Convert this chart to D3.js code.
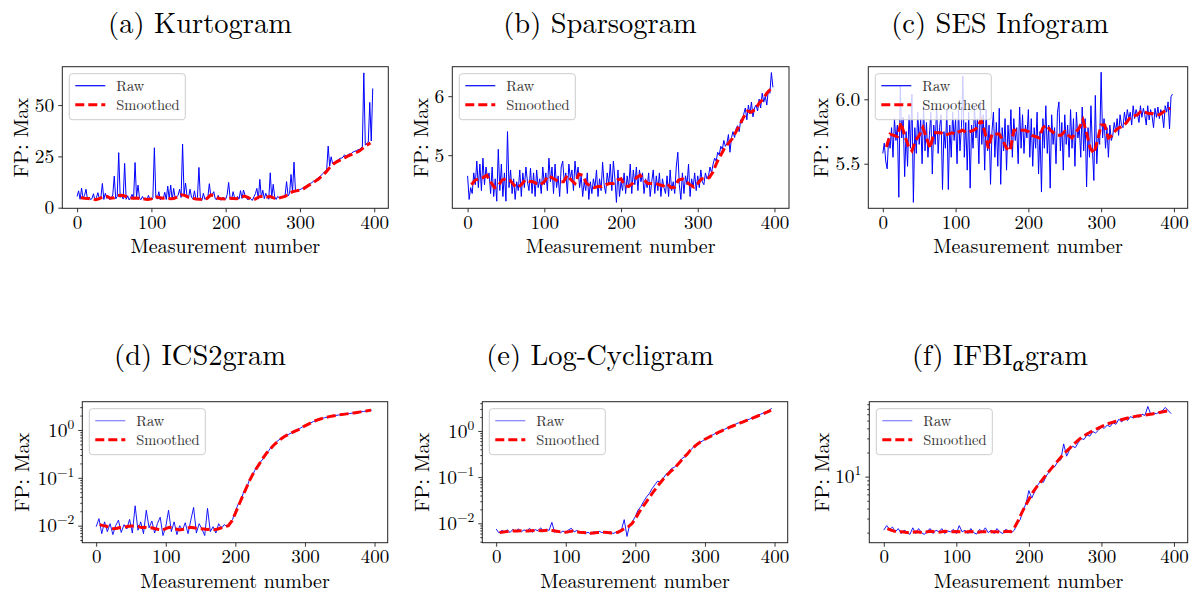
<!DOCTYPE html>
<html>
<head>
<meta charset="utf-8">
<script src="https://cdn.jsdelivr.net/npm/d3@7"></script>
<style>
body { margin: 0; background: #fff; }
</style>
</head>
<body>
<svg id="chart" width="1199" height="595"></svg>
<script>
// measurement axis
var xTicks = [0, 100, 200, 300, 400];
var smoothStart = 5, smoothStep = 5;

// (a) Kurtogram, raw every 2 measurements
var kurtRaw = [
  5.5, 8.2, 4.1, 9.5, 4.6, 6.0, 9.0, 3.8, 5.2, 4.0,
  4.4, 6.8, 3.6, 5.0, 7.3, 4.2, 5.1, 11.8, 4.0, 7.0,
  4.5, 5.8, 3.9, 4.8, 6.2, 15.4, 4.3, 5.5, 26.8, 5.0,
  6.3, 4.2, 21.6, 4.1, 5.8, 3.8, 4.9, 6.5, 4.2, 22.0,
  5.1, 11.0, 4.6, 3.9, 5.5, 4.0, 4.7, 3.7, 6.0, 4.2,
  3.9, 4.8, 29.2, 5.0, 4.3, 7.8, 3.8, 5.2, 4.5, 7.5,
  4.0, 10.5, 4.2, 11.0, 3.9, 9.4, 4.6, 5.3, 6.0, 9.0,
  5.0, 31.0, 6.5, 12.0, 5.5, 4.8, 9.0, 5.1, 4.3, 8.2,
  3.9, 5.0, 19.6, 4.0, 3.6, 7.0, 4.1, 4.5, 5.0, 11.7,
  5.8, 6.5, 7.8, 4.3, 3.9, 6.0, 4.0, 3.7, 5.2, 4.4,
  4.1, 6.3, 12.3, 4.6, 4.0, 7.8, 4.8, 3.9, 5.5, 4.2,
  8.3, 4.5, 8.6, 6.0, 4.8, 3.8, 5.0, 4.1, 3.6, 5.3,
  6.8, 9.4, 4.2, 13.8, 5.0, 8.5, 4.4, 7.0, 5.2, 4.1,
  17.0, 4.6, 11.4, 5.3, 4.0, 5.5, 4.8, 5.2, 5.0, 5.6,
  6.0, 12.7, 5.8, 6.8, 16.2, 7.5, 22.2, 8.0, 8.3, 8.6,
  8.8, 9.2, 9.6, 10.0, 10.4, 10.9, 11.3, 11.8, 12.2, 12.8,
  13.2, 13.8, 14.4, 15.0, 15.6, 16.3, 17.0, 17.8, 18.5, 30.0,
  20.2, 24.8, 21.5, 22.0, 22.6, 23.0, 23.5, 24.0, 24.2, 24.6,
  25.8, 25.0, 25.5, 26.3, 26.0, 26.8, 27.2, 27.5, 27.8, 28.2,
  28.4, 29.0, 29.6, 65.7, 30.5, 31.2, 32.0, 51.3, 32.5, 58.1
];
var kurtSmooth = [
  4.8, 4.6, 4.5, 4.2, 3.9, 4.4, 5.3, 5.5, 4.6, 4.8,
  5.9, 6.0, 5.6, 4.8, 4.6, 4.7, 4.4, 4.2, 4.0, 4.3,
  5.4, 5.0, 4.6, 4.8, 4.4, 4.5, 5.2, 6.3, 6.0, 5.0,
  4.6, 4.2, 4.1, 4.0, 4.5, 6.2, 5.8, 4.6, 4.3, 4.2,
  4.6, 4.5, 4.4, 5.0, 5.6, 5.0, 4.0, 4.2, 5.3, 5.6,
  5.2, 5.4, 4.7, 4.5, 5.0, 5.5, 6.6, 7.8, 8.2, 8.6,
  9.3, 10.5, 11.6, 12.7, 14.0, 15.5, 17.3, 19.5, 21.3, 22.5,
  23.3, 24.3, 25.2, 26.0, 26.8, 27.6, 29.0, 30.5, 31.5
];
var kurtTicks = [0, 25, 50];

// (b) Sparsogram
var sparsRaw = [
  4.65, 4.25, 4.45, 4.35, 4.70, 4.50, 4.90, 4.45, 4.85, 4.40,
  4.95, 4.50, 4.80, 4.60, 4.70, 4.35, 4.80, 4.30, 4.60, 4.22,
  5.10, 4.40, 4.85, 4.30, 4.70, 4.22, 5.40, 4.45, 4.75, 4.35,
  4.60, 4.25, 4.55, 4.40, 4.75, 4.30, 4.70, 4.45, 4.80, 4.55,
  4.40, 4.78, 4.35, 4.70, 4.30, 4.75, 4.45, 4.60, 4.35, 4.80,
  4.50, 4.70, 4.40, 4.95, 4.55, 4.80, 4.35, 4.85, 4.45, 4.65,
  4.30, 4.80, 4.90, 4.55, 4.70, 4.35, 4.85, 4.60, 4.75, 4.40,
  4.90, 4.60, 4.80, 4.45, 4.65, 4.30, 4.55, 4.40, 4.70, 4.25,
  4.55, 4.35, 4.60, 4.45, 4.75, 4.30, 4.60, 4.40, 4.88, 4.50,
  4.35, 4.70, 4.50, 4.85, 4.40, 4.90, 4.60, 4.20, 4.75, 4.30,
  4.55, 4.40, 4.70, 4.35, 4.65, 4.45, 4.85, 4.35, 4.75, 4.50,
  4.80, 4.40, 4.75, 4.55, 4.70, 4.35, 4.60, 4.45, 4.70, 4.30,
  4.55, 4.75, 4.35, 4.65, 4.40, 4.70, 4.30, 4.60, 4.45, 4.35,
  4.65, 4.30, 4.75, 4.40, 4.55, 4.35, 4.80, 5.05, 4.50, 4.25,
  4.70, 4.35, 4.65, 4.50, 4.85, 4.30, 4.60, 4.45, 4.70, 4.40,
  4.65, 4.45, 4.75, 4.55, 4.50, 4.70, 4.60, 4.65, 4.80, 4.70,
  4.85, 4.95, 4.90, 5.05, 5.00, 5.15, 5.10, 5.25, 5.15, 5.20,
  5.35, 5.05, 5.30, 5.40, 5.30, 5.45, 5.50, 5.40, 5.60, 5.55,
  5.70, 5.80, 5.60, 5.85, 5.70, 5.90, 5.65, 5.80, 5.85, 5.75,
  5.95, 5.80, 6.05, 5.90, 6.00, 5.85, 6.10, 6.05, 6.40, 6.15
];
var sparsSmooth = [
  4.50, 4.58, 4.60, 4.62, 4.66, 4.55, 4.45, 4.48, 4.58, 4.60,
  4.58, 4.50, 4.45, 4.50, 4.58, 4.56, 4.55, 4.52, 4.50, 4.55,
  4.65, 4.62, 4.58, 4.55, 4.55, 4.66, 4.58, 4.52, 4.68, 4.66,
  4.52, 4.48, 4.45, 4.47, 4.47, 4.50, 4.52, 4.52, 4.58, 4.60,
  4.48, 4.47, 4.52, 4.62, 4.66, 4.58, 4.52, 4.52, 4.52, 4.50,
  4.48, 4.52, 4.45, 4.46, 4.58, 4.60, 4.55, 4.50, 4.46, 4.52,
  4.60, 4.60, 4.62, 4.72, 4.88, 5.00, 5.12, 5.20, 5.28, 5.40,
  5.52, 5.65, 5.75, 5.73, 5.78, 5.88, 5.95, 6.05, 6.12
];
var sparsTicks = [5, 6];

// (c) SES Infogram
var sesRaw = [
  5.58, 5.66, 5.52, 5.46, 5.70, 5.62, 5.78, 5.55, 5.85, 5.68,
  5.80, 5.24, 6.10, 5.70, 5.86, 5.40, 5.75, 5.48, 5.88, 5.62,
  6.04, 5.20, 5.78, 5.58, 5.90, 5.65, 5.85, 5.50, 5.95, 5.60,
  5.82, 5.55, 5.72, 5.90, 5.42, 5.80, 5.65, 5.95, 5.58, 5.78,
  5.88, 5.30, 5.75, 5.62, 5.92, 5.30, 5.80, 5.55, 5.90, 5.68,
  5.85, 5.50, 5.92, 5.60, 5.78, 6.18, 5.55, 5.82, 5.45, 5.90,
  5.31, 5.80, 5.62, 5.95, 5.70, 5.85, 5.50, 5.98, 5.65, 5.88,
  5.45, 5.92, 5.60, 5.80, 5.34, 5.75, 5.90, 5.55, 5.82, 5.48,
  5.93, 5.34, 5.78, 5.60, 5.85, 5.45, 5.80, 5.62, 5.92, 5.55,
  5.85, 5.68, 5.78, 5.50, 5.94, 5.62, 5.88, 5.58, 5.80, 5.70,
  5.92, 5.55, 5.85, 5.48, 5.78, 5.62, 5.90, 5.42, 5.75, 5.28,
  5.85, 5.62, 5.95, 5.58, 5.80, 5.31, 5.88, 5.65, 5.78, 5.50,
  5.90, 5.98, 5.60, 5.82, 5.45, 5.88, 5.65, 5.80, 5.55, 5.92,
  5.62, 5.85, 5.48, 5.90, 5.70, 5.78, 5.55, 5.94, 5.60, 5.85,
  5.32, 5.78, 5.55, 5.95, 5.62, 5.37, 6.03, 5.50, 5.72, 5.65,
  6.21, 5.70, 5.85, 5.62, 5.78, 5.55, 5.80, 5.68, 5.72, 5.82,
  5.75, 5.85, 5.72, 5.88, 5.80, 5.78, 5.90, 5.82, 5.92, 5.85,
  5.90, 5.80, 5.95, 5.85, 5.92, 5.88, 5.82, 5.95, 5.86, 5.93,
  5.88, 5.80, 5.95, 5.84, 5.92, 5.87, 5.78, 5.93, 5.86, 5.94,
  5.85, 5.92, 5.88, 5.78, 5.95, 5.90, 5.98, 5.77, 6.02, 6.04
];
var sesSmooth = [
  5.63, 5.73, 5.72, 5.71, 5.82, 5.72, 5.64, 5.60, 5.68, 5.72,
  5.78, 5.70, 5.62, 5.74, 5.74, 5.74, 5.72, 5.73, 5.74, 5.73,
  5.75, 5.76, 5.74, 5.75, 5.76, 5.78, 5.84, 5.75, 5.62, 5.73,
  5.73, 5.73, 5.68, 5.62, 5.60, 5.76, 5.76, 5.76, 5.76, 5.75,
  5.72, 5.71, 5.70, 5.78, 5.80, 5.76, 5.74, 5.72, 5.72, 5.75,
  5.72, 5.70, 5.74, 5.78, 5.84, 5.74, 5.62, 5.58, 5.68, 5.80,
  5.80, 5.70, 5.72, 5.76, 5.78, 5.79, 5.82, 5.86, 5.87, 5.88,
  5.91, 5.90, 5.89, 5.89, 5.88, 5.88, 5.90, 5.92, 5.93
];
var sesTicks = [5.5, 6.0];

// (d) ICS2gram, raw every 4 measurements
var icsRaw = [
  0.0095, 0.0140, 0.0068, 0.0120, 0.0075, 0.0110, 0.0065, 0.0100, 0.0130, 0.0072,
  0.0105, 0.0085, 0.0135, 0.0070, 0.0260, 0.0080, 0.0120, 0.0068, 0.0210, 0.0090,
  0.0125, 0.0070, 0.0110, 0.0150, 0.0062, 0.0095, 0.0210, 0.0075, 0.0120, 0.0065,
  0.0100, 0.0080, 0.0115, 0.0068, 0.0130, 0.0240, 0.0070, 0.0110, 0.0085, 0.0062,
  0.0230, 0.0075, 0.0095, 0.0070, 0.0110, 0.0088, 0.0105, 0.0095, 0.0115, 0.0135,
  0.0200, 0.0280, 0.0320, 0.0520, 0.0600, 0.0880, 0.1050, 0.1450, 0.1750, 0.2150,
  0.250, 0.320, 0.370, 0.450, 0.500, 0.580, 0.640, 0.690, 0.760, 0.800,
  0.860, 0.910, 0.990, 1.060, 1.150, 1.230, 1.330, 1.400, 1.500, 1.560,
  1.650, 1.720, 1.800, 1.850, 1.910, 1.950, 2.010, 2.050, 2.080, 2.130,
  2.160, 2.210, 2.250, 2.290, 2.340, 2.390, 2.440, 2.480, 2.540, 2.600
];
var icsSmooth = [
  0.0105, 0.0100, 0.0097, 0.0090, 0.0086, 0.0088, 0.0091, 0.0093, 0.0096, 0.0098,
  0.0099, 0.0096, 0.0091, 0.0092, 0.0088, 0.0090, 0.0086, 0.0083, 0.0080, 0.0087,
  0.0092, 0.0090, 0.0085, 0.0081, 0.0084, 0.0088, 0.0092, 0.0090, 0.0088, 0.0086,
  0.0085, 0.0083, 0.0085, 0.0082, 0.0085, 0.0090, 0.0095, 0.0100, 0.0125, 0.0180,
  0.0270, 0.0400, 0.0580, 0.0850, 0.1180, 0.1550, 0.2000, 0.2600, 0.3300, 0.4000,
  0.4800, 0.5600, 0.6400, 0.7200, 0.7900, 0.8600, 0.9300, 1.0000, 1.1000, 1.2200,
  1.3300, 1.4500, 1.5600, 1.6600, 1.7500, 1.8300, 1.9000, 1.9600, 2.0200, 2.0700,
  2.1200, 2.1700, 2.2200, 2.2700, 2.3300, 2.3900, 2.4500, 2.5200, 2.6000
];

// (e) Log-Cycligram
var cycRaw = [
  0.0075, 0.0062, 0.0070, 0.0066, 0.0072, 0.0063, 0.0074, 0.0067, 0.0076, 0.0065,
  0.0072, 0.0068, 0.0078, 0.0064, 0.0073, 0.0069, 0.0080, 0.0066, 0.0074, 0.0070,
  0.0105, 0.0064, 0.0070, 0.0062, 0.0068, 0.0063, 0.0072, 0.0078, 0.0065, 0.0070,
  0.0062, 0.0066, 0.0060, 0.0064, 0.0058, 0.0066, 0.0062, 0.0067, 0.0063, 0.0065,
  0.0061, 0.0066, 0.0060, 0.0064, 0.0068, 0.0072, 0.0120, 0.0052, 0.0095, 0.0110,
  0.0140, 0.0195, 0.0230, 0.0300, 0.0370, 0.0440, 0.0560, 0.0680, 0.0820, 0.0780,
  0.094, 0.115, 0.128, 0.155, 0.162, 0.190, 0.215, 0.262, 0.280, 0.340,
  0.39, 0.46, 0.50, 0.56, 0.60, 0.66, 0.70, 0.78, 0.83, 0.90,
  0.93, 1.01, 1.08, 1.16, 1.25, 1.32, 1.40, 1.49, 1.55, 1.66,
  1.70, 1.80, 1.93, 2.04, 2.18, 2.30, 2.45, 2.62, 2.78, 3.10
];
var cycSmooth = [
  0.0063, 0.0065, 0.0066, 0.0067, 0.0068, 0.0068, 0.0069, 0.0068, 0.0068, 0.0069,
  0.0070, 0.0070, 0.0069, 0.0070, 0.0071, 0.0070, 0.0068, 0.0066, 0.0065, 0.0064,
  0.0066, 0.0068, 0.0066, 0.0064, 0.0063, 0.0062, 0.0061, 0.0062, 0.0063, 0.0064,
  0.0064, 0.0063, 0.0062, 0.0062, 0.0064, 0.0070, 0.0078, 0.0085, 0.0098, 0.0125,
  0.0170, 0.0220, 0.0280, 0.0360, 0.0460, 0.0580, 0.0730, 0.0900, 0.1080, 0.1300,
  0.150, 0.180, 0.220, 0.270, 0.320, 0.400, 0.460, 0.530, 0.600, 0.660,
  0.72, 0.79, 0.86, 0.94, 1.02, 1.10, 1.19, 1.28, 1.37, 1.47,
  1.58, 1.69, 1.81, 1.94, 2.08, 2.23, 2.40, 2.58, 2.80
];
var logTicks = [0.01, 0.1, 1];

// (f) IFBI_alpha gram
var ifbiRaw = [
  2.15, 2.45, 2.20, 2.35, 2.05, 2.25, 1.95, 2.15, 2.05, 1.90,
  2.30, 1.95, 2.25, 2.00, 1.90, 2.10, 2.25, 1.95, 2.15, 2.05,
  2.25, 1.95, 2.10, 2.05, 2.20, 1.95, 2.45, 2.05, 2.15, 1.95,
  2.25, 2.00, 1.92, 2.20, 2.05, 2.30, 2.00, 2.15, 1.95, 2.25,
  2.05, 1.95, 2.20, 2.10, 2.00, 2.15, 2.60, 2.90, 3.80, 4.60,
  6.70, 5.40, 6.50, 7.80, 8.70, 8.50, 10.20, 11.50, 12.60, 13.40,
  15.50, 16.20, 25.60, 18.00, 21.50, 24.00, 23.00, 26.50, 30.00, 29.00,
  33.00, 32.00, 36.50, 35.00, 38.00, 41.50, 40.00, 44.00, 42.00, 47.00,
  45.00, 52.00, 48.00, 54.00, 50.00, 56.00, 54.00, 58.00, 55.00, 60.00,
  58.00, 75.00, 60.00, 62.00, 61.00, 64.00, 66.00, 73.00, 67.00, 61.00
];
var ifbiSmooth = [
  2.25, 2.15, 2.08, 2.05, 2.05, 2.02, 2.00, 2.02, 2.05, 2.03,
  2.00, 2.05, 2.08, 2.05, 2.03, 2.05, 2.08, 2.06, 2.05, 2.07,
  2.06, 2.04, 2.05, 2.07, 2.05, 2.03, 2.05, 2.06, 2.04, 2.06,
  2.05, 2.03, 2.05, 2.08, 2.06, 2.30, 2.80, 3.50, 4.30, 5.20,
  6.30, 7.30, 8.30, 9.50, 10.8, 12.3, 14.0, 15.8, 17.8, 20.0,
  22.0, 24.5, 27.0, 29.5, 32.0, 34.0, 36.0, 38.0, 40.0, 42.0,
  44.0, 46.0, 47.5, 49.0, 50.5, 52.0, 53.5, 55.0, 56.0, 57.0,
  58.0, 58.5, 59.5, 60.5, 61.5, 63.0, 64.5, 66.0, 66.5
];
var ifbiTicks = [10];

// one font name only: the renderer does not take fallback lists
var texFont = "Latin Modern Roman";
var svg = d3.select("#chart");

var panels = [
  {letter: "(a) ", name: "Kurtogram", cx: 200, ty: 33, left: 62.3, right: 388.3, top: 66.7, bottom: 208.3,
   raw: kurtRaw, smooth: kurtSmooth, rawStep: 2, log: false, yDomain: [-0.3, 68.7], yTicks: kurtTicks, fmt: d3.format("d"), rawAlpha: 1},
  {letter: "(b) ", name: "Sparsogram", cx: 600, ty: 33, left: 452.3, right: 789, top: 66.7, bottom: 208.3,
   raw: sparsRaw, smooth: sparsSmooth, rawStep: 2, log: false, yDomain: [4.10, 6.50], yTicks: sparsTicks, fmt: d3.format("d"), rawAlpha: 1},
  {letter: "(c) ", name: "SES Infogram", cx: 1000, ty: 33, left: 868.3, right: 1187.7, top: 66.7, bottom: 208.3,
   raw: sesRaw, smooth: sesSmooth, rawStep: 2, log: false, yDomain: [5.154, 6.253], yTicks: sesTicks, fmt: d3.format(".1f"), rawAlpha: 1},
  {letter: "(d) ", name: "ICS2gram", cx: 200, ty: 365, left: 82.3, right: 387.7, top: 401.7, bottom: 542.7,
   raw: icsRaw, smooth: icsSmooth, rawStep: 4, log: true, yDomain: [0.0044, 3.9], yTicks: logTicks, rawAlpha: 0.9},
  {letter: "(e) ", name: "Log-Cycligram", cx: 600, ty: 365, left: 482.3, right: 787.7, top: 401.7, bottom: 542.7,
   raw: cycRaw, smooth: cycSmooth, rawStep: 4, log: true, yDomain: [0.0038, 4.3], yTicks: logTicks, rawAlpha: 0.9},
  {letter: "(f) ", name: "IFBI", sub: "α", after: "gram", cx: 1000, ty: 365, left: 869.3, right: 1187.7, top: 401.7, bottom: 542.7,
   raw: ifbiRaw, smooth: ifbiSmooth, rawStep: 4, log: true, yDomain: [1.5, 86], yTicks: ifbiTicks, rawAlpha: 0.9}
];

function supLabel(sel, v) {
  var e = Math.round(Math.log10(v));
  sel.text("10");
  sel.append("tspan").attr("dy", -8).style("font-family", texFont).style("font-size", "13.5px")
     .text(e < 0 ? "\u2212" + Math.abs(e) : e);
}

function drawPanel(p, k) {
  var x = d3.scaleLinear().domain([-19.95, 418.95]).range([p.left, p.right]);
  var y = (p.log ? d3.scaleLog() : d3.scaleLinear()).domain(p.yDomain).range([p.bottom, p.top]);
  var g = svg.append("g").attr("class", "panel");

  // title
  var t = g.append("text").attr("x", p.cx).attr("y", p.ty).attr("text-anchor", "middle")
    .style("font-family", texFont).style("font-size", "28.5px").text(p.letter + p.name);
  if (p.sub) {
    t.append("tspan").attr("dy", 6).style("font-family", "DejaVu Serif").style("font-style", "italic")
      .style("font-size", "18px").text(p.sub);
    t.append("tspan").attr("dy", -6).text(p.after);
  }

  g.append("clipPath").attr("id", "clip" + k).append("rect")
    .attr("x", p.left).attr("y", p.top).attr("width", p.right - p.left).attr("height", p.bottom - p.top);

  var line = d3.line().x(function(d){ return x(d[0]); }).y(function(d){ return y(d[1]); });
  var rawPts = p.raw.map(function(v, i){ return [i * p.rawStep, v]; });
  var smPts = p.smooth.map(function(v, i){ return [smoothStart + i * smoothStep, v]; });

  var plot = g.append("g").attr("clip-path", "url(#clip" + k + ")");
  plot.append("path").datum(rawPts).attr("d", line)
    .attr("fill", "none").attr("stroke", "#0000ff").attr("stroke-width", 1)
    .attr("stroke-opacity", p.rawAlpha).attr("stroke-linejoin", "round");
  plot.append("path").datum(smPts).attr("d", line)
    .attr("fill", "none").attr("stroke", "#ff0000").attr("stroke-width", 3)
    .attr("stroke-dasharray", "9,4");

  // x axis
  var xa = g.append("g").attr("transform", "translate(0," + p.bottom + ")")
    .call(d3.axisBottom(x).tickValues(xTicks).tickSize(4).tickPadding(3));
  xa.select(".domain").remove();
  xa.attr("font-family", texFont).attr("font-size", null);
  xa.selectAll("text").style("font-family", texFont).style("font-size", "19px");

  // y axis
  var ya = g.append("g").attr("transform", "translate(" + p.left + ",0)")
    .call(d3.axisLeft(y).tickValues(p.yTicks).tickSize(4).tickPadding(4)
      .tickFormat(p.log ? function(){ return ""; } : p.fmt));
  ya.select(".domain").remove();
  ya.attr("font-family", texFont).attr("font-size", null);
  ya.selectAll("text").style("font-family", texFont).style("font-size", "19.5px");
  if (p.log) {
    ya.selectAll(".tick text").each(function(d){ supLabel(d3.select(this), d); });
    var minor = [];
    var lo = Math.floor(Math.log10(p.yDomain[0])), hi = Math.ceil(Math.log10(p.yDomain[1]));
    for (var e = lo; e < hi; e++) {
      for (var m = 2; m < 10; m++) {
        var v = m * Math.pow(10, e);
        if (v > p.yDomain[0] && v < p.yDomain[1]) minor.push(v);
      }
    }
    var ym = g.append("g").attr("transform", "translate(" + p.left + ",0)")
      .call(d3.axisLeft(y).tickValues(minor).tickSize(2).tickFormat(""));
    ym.select(".domain").remove();
  }
  g.selectAll(".tick line").attr("stroke", "#000").attr("stroke-width", 0.8);

  // frame
  g.append("rect").attr("x", p.left).attr("y", p.top)
    .attr("width", p.right - p.left).attr("height", p.bottom - p.top)
    .attr("fill", "none").attr("stroke", "#222").attr("stroke-width", 1);

  // axis labels
  g.append("text").attr("x", (p.left + p.right) / 2).attr("y", p.bottom + 45)
    .attr("text-anchor", "middle").style("font-family", texFont).style("font-size", "20px")
    .text("Measurement number");
  var lx = p.cx - 200 + (p.log ? 29 : 28);
  g.append("text").attr("transform", "translate(" + lx + "," + ((p.top + p.bottom) / 2) + ") rotate(-90)")
    .attr("text-anchor", "middle").style("font-family", texFont).style("font-size", "20.5px").text("FP: Max");

  // legend
  var lg = g.append("g").attr("transform", "translate(" + (p.left + 7) + "," + (p.top + 7) + ")");
  lg.append("rect").attr("width", 116).attr("height", 46).attr("rx", 3)
    .attr("fill", "#fff").attr("fill-opacity", 0.8).attr("stroke", "#ccc").attr("stroke-width", 1);
  lg.append("line").attr("x1", 6).attr("x2", 36).attr("y1", 12).attr("y2", 12)
    .attr("stroke", "#0000ff").attr("stroke-opacity", p.rawAlpha < 1 ? 0.5 : 1).attr("stroke-width", 1.2);
  lg.append("line").attr("x1", 6).attr("x2", 36).attr("y1", 31).attr("y2", 31)
    .attr("stroke", "#ff0000").attr("stroke-width", 3).attr("stroke-dasharray", "9,4");
  lg.append("text").attr("x", 47).attr("y", 17).style("font-family", texFont).style("font-size", "14.5px")
    .attr("fill", "#333").text("Raw");
  lg.append("text").attr("x", 47).attr("y", 36).style("font-family", texFont).style("font-size", "14.5px")
    .attr("fill", "#333").text("Smoothed");
}

panels.forEach(drawPanel);
</script>
</body>
</html>
